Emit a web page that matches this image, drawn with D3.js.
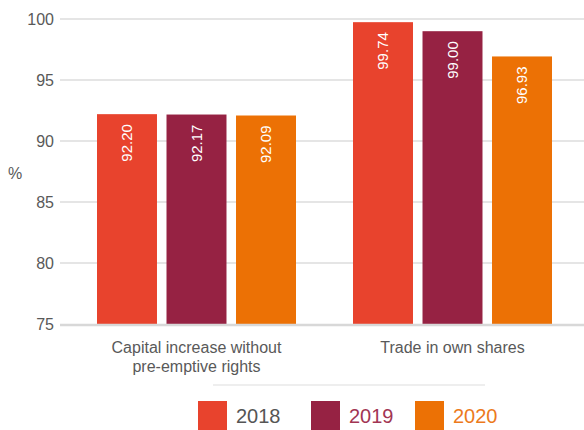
<!DOCTYPE html>
<html>
<head lang="en">
    <meta charset="UTF-8">
    <title>Voting results</title>
    <script type="text/javascript" src="https://cdn.jsdelivr.net/npm/d3@7"></script>
    <style>
        body { margin: 0; background: #fff; }
        text { font-family: "Liberation Sans", Arial, sans-serif; }
    </style>
</head>
<body>
<svg id="mainSvg"></svg>
<script>
    var categories = ["Capital increase without|pre-emptive rights", "Trade in own shares"];
    var years = ["2018", "2019", "2020"];
    var values2018 = [92.20, 99.74];
    var values2019 = [92.17, 99.00];
    var values2020 = [92.09, 96.93];
    var yTicks = [75, 80, 85, 90, 95, 100];
    var colors = ["#e8432d", "#962243", "#ec7105"];
    var legendTextColors = ["#555555", "#a23553", "#ec7a1c"];

    var w = 584, h = 430;
    var mLeft = 60, mRight = 584, mTop = 19, mBottom = 324;

    var svg = d3.select("#mainSvg").attr("width", w).attr("height", h);

    var y = d3.scaleLinear().domain([75, 100]).range([mBottom, mTop]);
    var x0 = d3.scaleBand().domain(categories).range([97, 552]).paddingInner(0.2227).paddingOuter(0);
    var x1 = d3.scaleBand().domain(years).range([0, x0.bandwidth()]).paddingInner(0.137).paddingOuter(0);

    // grid
    svg.append("g")
            .selectAll("line")
            .data(yTicks.slice(1))
            .enter()
            .append("line")
            .attr("x1", mLeft).attr("x2", mRight)
            .attr("y1", function (d) { return y(d); })
            .attr("y2", function (d) { return y(d); })
            .attr("stroke", "#dddddd")
            .attr("stroke-width", 1.5);

    svg.append("g")
            .selectAll("text")
            .data(yTicks)
            .enter()
            .append("text")
            .attr("x", 54)
            .attr("y", function (d) { return y(d); })
            .attr("dy", "0.35em")
            .attr("text-anchor", "end")
            .attr("font-size", 16)
            .attr("fill", "#595959")
            .text(function (d) { return d; });

    svg.append("text")
            .attr("x", 15).attr("y", 173)
            .attr("dy", "0.35em")
            .attr("text-anchor", "middle")
            .attr("font-size", 16)
            .attr("fill", "#595959")
            .text("%");

    var series = [values2018, values2019, values2020];
    var rows = [];
    categories.forEach(function (c, ci) {
        years.forEach(function (yr, yi) {
            rows.push({cat: c, year: yr, yi: yi, v: series[yi][ci]});
        });
    });

    var bars = svg.append("g")
            .selectAll("g")
            .data(rows)
            .enter()
            .append("g")
            .attr("transform", function (d) {
                return "translate(" + (x0(d.cat) + x1(d.year)) + ",0)";
            });

    bars.append("rect")
            .attr("x", 0)
            .attr("width", x1.bandwidth())
            .attr("y", function (d) { return y(d.v); })
            .attr("height", function (d) { return mBottom - y(d.v); })
            .attr("fill", function (d) { return colors[d.yi]; });

    bars.append("text")
            .attr("transform", function (d) {
                return "translate(" + (x1.bandwidth() / 2) + "," + (y(d.v) + 10) + ") rotate(-90)";
            })
            .attr("text-anchor", "end")
            .attr("dy", "0.35em")
            .attr("font-size", 15)
            .attr("fill", "#fff")
            .text(function (d) { return d.v.toFixed(2); });

    // baseline
    svg.append("line")
            .attr("x1", mLeft).attr("x2", mRight)
            .attr("y1", mBottom + 1).attr("y2", mBottom + 1)
            .attr("stroke", "#d8d8d8")
            .attr("stroke-width", 2.5);

    // category labels
    var catLabels = svg.append("g")
            .selectAll("text")
            .data(categories)
            .enter()
            .append("text")
            .attr("text-anchor", "middle")
            .attr("font-size", 16)
            .attr("fill", "#595959");
    catLabels.each(function (d) {
        var t = d3.select(this);
        d.split("|").forEach(function (line, i) {
            t.append("tspan")
                    .attr("x", x0(d) + x0.bandwidth() / 2)
                    .attr("y", 353 + i * 19)
                    .text(line);
        });
    });

    // legend
    svg.append("line")
            .attr("x1", 213).attr("x2", 485)
            .attr("y1", 385).attr("y2", 385)
            .attr("stroke", "#dddddd")
            .attr("stroke-width", 1);

    var legendX = [198, 311, 415];
    var legend = svg.append("g")
            .selectAll("g")
            .data(years)
            .enter()
            .append("g")
            .attr("transform", function (d, i) { return "translate(" + legendX[i] + ",401)"; });
    legend.append("rect")
            .attr("width", 29).attr("height", 29)
            .attr("fill", function (d, i) { return colors[i]; });
    legend.append("text")
            .attr("x", 38).attr("y", 15)
            .attr("dy", "0.35em")
            .attr("font-size", 20)
            .attr("fill", function (d, i) { return legendTextColors[i]; })
            .text(function (d) { return d; });
</script>
</body>
</html>
